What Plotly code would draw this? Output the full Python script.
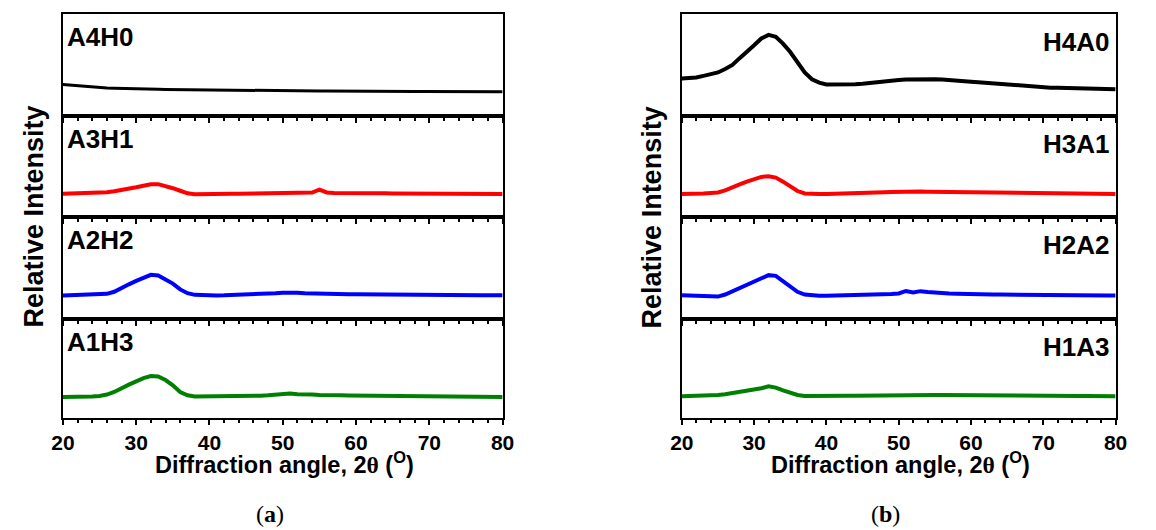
import plotly.graph_objects as go

# 2-theta grid (degrees)
two_theta = [20, 21, 22, 23, 24, 25, 26, 27, 28, 29, 30, 31, 32, 33, 34, 35, 36, 37, 38, 39,
             40, 41, 42, 43, 44, 45, 46, 47, 48, 49, 50, 51, 52, 53, 54, 55, 56, 57, 58, 59,
             60, 61, 62, 63, 64, 65, 66, 67, 68, 69, 70, 71, 72, 73, 74, 75, 76, 77, 78, 79, 80]

# panel (a): A-series samples, relative intensity (a.u.)
a4h0 = [31.0, 30.3, 29.8, 29.0, 28.3, 27.8, 27.5, 27.3, 27.0, 26.8,
        26.7, 26.5, 26.4, 26.2, 26.0, 25.9, 25.8, 25.6, 25.5, 25.4,
        25.3, 25.2, 25.2, 25.1, 25.0, 25.0, 24.9, 24.9, 24.8, 24.8,
        24.7, 24.7, 24.6, 24.6, 24.5, 24.5, 24.5, 24.4, 24.4, 24.3,
        24.3, 24.3, 24.2, 24.2, 24.2, 24.1, 24.1, 24.1, 24.0, 24.0,
        24.0, 24.0, 23.9, 23.9, 23.9, 23.8, 23.8, 23.8, 23.7, 23.7, 23.7]
a3h1 = [23.0, 23.2, 23.3, 23.4, 23.5, 24.0, 24.5, 25.5, 26.5, 28.0,
        29.5, 31.0, 32.5, 32.5, 31.0, 28.5, 26.0, 23.5, 22.5, 22.8,
        23.0, 23.0, 23.0, 23.1, 23.1, 23.2, 23.2, 23.3, 23.3, 23.4,
        23.5, 23.5, 23.6, 23.7, 24.2, 27.0, 24.3, 23.8, 23.6, 23.5,
        23.5, 23.5, 23.4, 23.4, 23.4, 23.3, 23.3, 23.3, 23.3, 23.3,
        23.3, 23.2, 23.2, 23.1, 23.1, 23.0, 23.0, 22.9, 22.9, 22.8, 22.8]
a2h2 = [23.0, 23.2, 23.3, 23.5, 23.8, 24.0, 24.7, 26.7, 30.7, 34.0,
        37.3, 40.7, 43.3, 42.7, 39.0, 34.7, 29.0, 25.3, 23.7, 23.2,
        23.0, 23.1, 23.2, 23.4, 23.5, 23.7, 24.0, 24.3, 24.8, 25.3,
        25.8, 26.2, 25.8, 25.3, 25.0, 24.7, 24.6, 24.5, 24.4, 24.3,
        24.3, 24.3, 24.3, 24.2, 24.2, 24.2, 24.1, 24.0, 23.9, 23.8,
        23.7, 23.6, 23.6, 23.5, 23.5, 23.4, 23.4, 23.4, 23.3, 23.3, 23.3]
a1h3 = [21.3, 21.2, 21.0, 21.3, 21.7, 22.3, 23.7, 26.3, 30.3, 33.7,
        37.0, 40.3, 42.3, 42.0, 38.3, 33.0, 26.3, 23.0, 21.7, 21.7,
        21.7, 21.8, 21.8, 21.9, 22.0, 22.0, 22.3, 22.6, 23.0, 23.3,
        24.5, 24.8, 24.0, 24.3, 23.8, 23.3, 23.5, 23.2, 23.0, 22.8,
        22.7, 22.7, 22.6, 22.6, 22.5, 22.4, 22.4, 22.3, 22.2, 22.1,
        22.0, 22.0, 21.9, 21.9, 21.8, 21.7, 21.6, 21.5, 21.5, 21.4, 21.3]

# panel (b): H-series samples, relative intensity (a.u.)
h4a0 = [36.7, 37.2, 37.7, 39.3, 41.0, 42.7, 46.0, 50.0, 56.7, 62.7,
        69.3, 76.0, 79.5, 77.7, 71.0, 62.7, 52.7, 42.7, 36.0, 32.7,
        31.0, 30.8, 30.7, 30.9, 31.2, 31.7, 32.5, 33.5, 34.3, 34.8,
        35.3, 35.7, 36.0, 36.0, 36.0, 36.0, 35.7, 35.4, 35.0, 34.4,
        33.7, 33.2, 32.6, 32.0, 31.3, 30.7, 30.2, 29.8, 29.3, 28.6,
        28.0, 27.8, 27.6, 27.4, 27.2, 27.0, 26.8, 26.7, 26.6, 26.4, 26.3]
h3a1 = [22.7, 22.7, 22.7, 23.2, 23.7, 24.3, 26.3, 29.7, 32.3, 35.0,
        37.7, 39.7, 40.3, 39.0, 35.0, 30.0, 25.7, 23.3, 22.7, 22.7,
        22.7, 22.8, 22.9, 23.0, 23.2, 23.3, 23.6, 24.0, 24.4, 24.7,
        25.0, 25.2, 25.3, 25.2, 25.1, 25.0, 24.8, 24.6, 24.4, 24.2,
        24.0, 23.9, 23.8, 23.6, 23.5, 23.3, 23.3, 23.2, 23.1, 23.1,
        23.0, 23.0, 22.9, 22.9, 22.9, 22.8, 22.8, 22.8, 22.7, 22.7, 22.7]
h2a2 = [23.3, 23.1, 23.0, 22.9, 22.7, 22.0, 24.0, 27.3, 30.7, 34.0,
        37.3, 40.7, 43.0, 42.3, 37.3, 31.3, 26.7, 24.0, 23.0, 22.8,
        22.7, 22.8, 22.9, 23.0, 23.2, 23.3, 23.6, 23.9, 24.2, 24.6,
        25.0, 27.5, 26.0, 27.3, 26.5, 25.7, 25.3, 25.0, 24.8, 24.5,
        24.3, 24.2, 24.1, 24.1, 24.0, 24.0, 23.9, 23.9, 23.8, 23.8,
        23.7, 23.6, 23.6, 23.5, 23.5, 23.4, 23.3, 23.2, 23.2, 23.1, 23.0]
h1a3 = [22.0, 22.2, 22.0, 22.3, 23.2, 23.3, 24.0, 25.0, 26.0, 27.3,
        28.7, 30.0, 32.0, 30.7, 28.0, 25.3, 23.3, 22.3, 22.5, 22.3,
        22.3, 22.4, 22.4, 22.5, 22.6, 22.7, 22.9, 23.1, 23.3, 23.5,
        23.7, 23.6, 23.5, 23.4, 23.4, 23.3, 23.2, 23.2, 23.1, 23.0,
        23.0, 22.9, 22.9, 22.8, 22.8, 22.7, 22.7, 22.6, 22.5, 22.4,
        22.3, 22.3, 22.3, 22.2, 22.2, 22.2, 22.1, 22.1, 22.0, 22.0, 22.0]

left_names = ["A4H0", "A3H1", "A2H2", "A1H3"]
left_series = [a4h0, a3h1, a2h2, a1h3]
right_names = ["H4A0", "H3A1", "H2A2", "H1A3"]
right_series = [h4a0, h3a1, h2a2, h1a3]
colors = ["#000000", "#ff0000", "#0000ff", "#008000"]
x_ticks = [20, 30, 40, 50, 60, 70, 80]

W, H = 1156, 530
# stacked panel geometry (pixels)
row_edges = [14, 116, 217, 319, 418]
left_x = (52, 501)
right_x = (684, 1127)

SANS = "Liberation Sans"


def py(p):
    return 1 - p / H


fig = go.Figure()
layout = {}
annotations = []

panels = [(left_x, left_names, left_series, 0), (right_x, right_names, right_series, 4)]
for (x0, x1), names, series, offset in panels:
    for r in range(4):
        k = offset + r + 1
        xa = "x" if k == 1 else f"x{k}"
        ya = "y" if k == 1 else f"y{k}"
        fig.add_trace(go.Scatter(
            x=two_theta, y=series[r], mode="lines",
            line=dict(color=colors[r], width=3 if (offset == 0 and r == 0) else 4),
            xaxis=xa, yaxis=ya, showlegend=False, hoverinfo="skip"))
        bottom = r == 3
        layout[f"xaxis{k}"] = dict(
            domain=[x0 / W, x1 / W], anchor=ya, range=[20, 80],
            showline=True, mirror=True, linecolor="black", linewidth=2,
            ticks="outside", ticklen=5, tickwidth=2, tickcolor="black",
            tickvals=x_ticks, showticklabels=bottom,
            minor=dict(ticks="outside", ticklen=3, tickwidth=1.5, dtick=2, tick0=20,
                       tickcolor="black", showgrid=False),
            tickfont=dict(family=SANS, size=21, color="black", weight="bold"),
            showgrid=False, zeroline=False, fixedrange=True)
        layout[f"yaxis{k}"] = dict(
            domain=[py(row_edges[r + 1]), py(row_edges[r])], anchor=xa, range=[0, 100],
            showline=True, mirror=True, linecolor="black", linewidth=2,
            ticks="", showticklabels=False, showgrid=False, zeroline=False, fixedrange=True)

# sample labels
label_font = dict(family=SANS, size=26, color="black", weight="bold")
for r, name in enumerate(left_names):
    annotations.append(dict(x=54 / W, y=py(row_edges[r] + 23), xref="paper", yref="paper",
                            text=name, showarrow=False, xanchor="left", yanchor="middle",
                            font=label_font))
for r, name in enumerate(right_names):
    annotations.append(dict(x=1122 / W, y=py(row_edges[r] + 28), xref="paper", yref="paper",
                            text=name, showarrow=False, xanchor="right", yanchor="middle",
                            font=label_font))

# axis titles and panel captions
xtitle = "Diffraction angle, 2<span style='font-family:Liberation Serif'>θ</span> (<sup>O</sup>)"
for cx, ylab_x in [(278, 22), (907, 654)]:
    annotations.append(dict(x=cx / W, y=py(463), xref="paper", yref="paper", text=xtitle,
                            showarrow=False, xanchor="center", yanchor="middle",
                            font=dict(family=SANS, size=23.5, color="black", weight="bold")))
    annotations.append(dict(x=ylab_x / W, y=py(217), xref="paper", yref="paper",
                            text="Relative Intensity", textangle=-90, showarrow=False,
                            xanchor="center", yanchor="middle",
                            font=dict(family=SANS, size=27, color="black", weight="bold")))
for cap_x, letter in [(263, "a"), (892, "b")]:
    annotations.append(dict(x=cap_x / W, y=py(514), xref="paper", yref="paper",
                            text=f"(<b>{letter}</b>)", showarrow=False,
                            xanchor="center", yanchor="middle", borderpad=0,
                            font=dict(family="Liberation Serif", size=24, color="black")))

fig.update_layout(
    width=W, height=H, margin=dict(l=0, r=0, t=0, b=0),
    paper_bgcolor="white", plot_bgcolor="white",
    annotations=annotations, **layout)

fig.write_html("out.html")
